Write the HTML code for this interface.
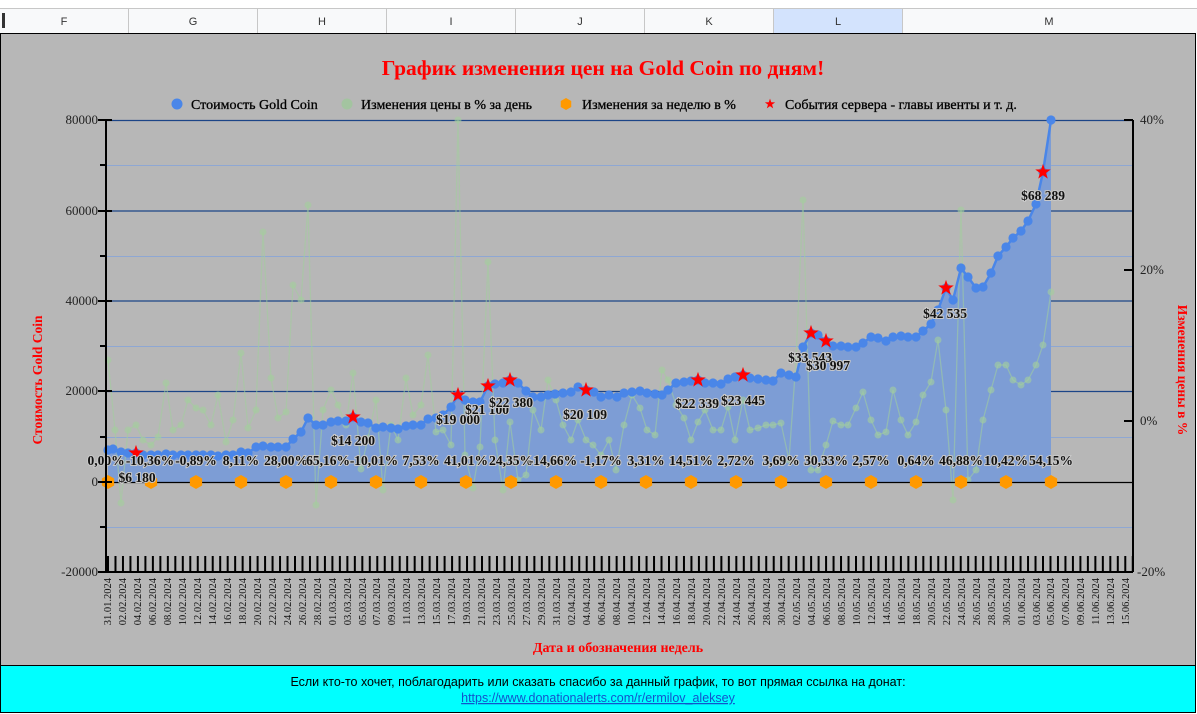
<!DOCTYPE html>
<html><head><meta charset="utf-8"><style>
body{margin:0;width:1197px;height:714px;overflow:hidden;background:#fff;font-family:"Liberation Sans",sans-serif}
svg{display:block}
</style></head><body>
<svg width="1197" height="714" viewBox="0 0 1197 714" xmlns="http://www.w3.org/2000/svg">
<defs>
<marker id="dot" markerWidth="10" markerHeight="10" refX="5" refY="5" markerUnits="userSpaceOnUse"><circle cx="5" cy="5" r="4.6" fill="#4a86e8"/></marker>
<marker id="gdot" markerWidth="8" markerHeight="8" refX="4" refY="4" markerUnits="userSpaceOnUse"><circle cx="4" cy="4" r="3.5" fill="#a3cf9c" fill-opacity="0.6"/></marker>
<symbol id="star" viewBox="-10 -10 20 20" overflow="visible"><polygon points="0,-9 2.1,-2.9 8.6,-2.8 3.4,1.1 5.3,7.3 0,3.6 -5.3,7.3 -3.4,1.1 -8.6,-2.8 -2.1,-2.9" fill="#ff0000"/></symbol>
<symbol id="hex" viewBox="-8 -8 16 16" overflow="visible"><polygon points="0,-8 7,-4 7,4 0,8 -7,4 -7,-4" fill="#ff9900"/></symbol>
<pattern id="ticks" x="107" y="0" width="7.48" height="20" patternUnits="userSpaceOnUse"><rect x="0" y="0" width="2" height="20" fill="#000"/></pattern>
</defs>
<rect x="0" y="0" width="1197" height="8" fill="#fff"/>
<rect x="0" y="8" width="1197" height="25" fill="#f8f9fa"/>
<rect x="773" y="8" width="129" height="25" fill="#d3e3fd"/>
<line x1="0" y1="8.5" x2="1197" y2="8.5" stroke="#c7c7c7"/>
<g stroke="#c7c7c7"><line x1="128.5" y1="8" x2="128.5" y2="33"/><line x1="257.5" y1="8" x2="257.5" y2="33"/><line x1="386.5" y1="8" x2="386.5" y2="33"/><line x1="515.5" y1="8" x2="515.5" y2="33"/><line x1="644.5" y1="8" x2="644.5" y2="33"/><line x1="773.5" y1="8" x2="773.5" y2="33"/><line x1="902.5" y1="8" x2="902.5" y2="33"/></g>
<rect x="2" y="13" width="3" height="15" fill="#333"/>
<g font-family="Liberation Sans, sans-serif" font-size="11" fill="#333" text-anchor="middle"><text x="64" y="25">F</text><text x="193" y="25">G</text><text x="322" y="25">H</text><text x="451" y="25">I</text><text x="580" y="25">J</text><text x="709" y="25">K</text><text x="838" y="25">L</text><text x="1049" y="25">M</text></g>
<rect x="0.5" y="33.5" width="1195" height="632" fill="#b7b7b7" stroke="#000"/>
<text x="603" y="75" text-anchor="middle" font-family="Liberation Serif, serif" font-weight="bold" font-size="21.5" fill="#ff0000">График изменения цен на Gold Coin по дням!</text>
<g font-family="Liberation Serif, serif" font-size="14" fill="#000" stroke="#000" stroke-width="0.3">
<circle cx="177" cy="104" r="5.5" fill="#4a86e8" stroke="none"/><text x="191" y="109">Стоимость Gold Coin</text>
<circle cx="347" cy="104" r="5.5" fill="#a3c4a0" stroke="none"/><text x="361" y="109">Изменения цены в % за день</text>
<use href="#hex" x="560" y="98" width="12" height="12" stroke="none"/><text x="582" y="109">Изменения за неделю в %</text>
<use href="#star" x="764" y="98" width="12" height="12" stroke="none"/><text x="785" y="109">События сервера - главы ивенты и т. д.</text>
</g>
<g stroke="#8ea7d3" stroke-width="1"><line x1="106" y1="165.5" x2="1133" y2="165.5"/><line x1="106" y1="256.5" x2="1133" y2="256.5"/><line x1="106" y1="346.5" x2="1133" y2="346.5"/><line x1="106" y1="437.5" x2="1133" y2="437.5"/><line x1="106" y1="527.5" x2="1133" y2="527.5"/></g>
<g stroke="#1c4587" stroke-width="1.2"><line x1="106" y1="120.5" x2="1133" y2="120.5"/><line x1="106" y1="211" x2="1133" y2="211"/><line x1="106" y1="301" x2="1133" y2="301"/><line x1="106" y1="391.5" x2="1133" y2="391.5"/></g>
<path fill="#7d9dd5" d="M108,482 L108,450 113,449 121,452 128,453 136,453 143,455 151,455 158,455 166,454 173,455 181,455 188,455 196,455 203,455 211,455 218,456 226,455 233,455 241,452 248,453 256,447 263,446 271,447 278,447 286,447 293,439 301,432 308,418 316,425 323,425 331,422 338,421 346,421 353,417 361,422 368,423 376,428 383,427 391,428 398,429 406,426 413,425 421,425 428,419 436,418 443,415 451,407 458,395 465,400 473,402 480,402 488,386 495,384 503,383 510,380 518,383 526,391 533,397 541,397 548,395 555,394 563,393 571,392 578,387 586,390 594,392 601,397 609,395 617,397 624,393 632,392 640,391 647,393 655,394 662,395 668,390 676,383 684,382 691,381 698,380 705,383 713,383 721,384 728,379 735,377 743,375 750,378 758,379 766,380 773,381 781,373 789,375 796,377 803,347 811,333 818,335 826,341 833,346 841,346 848,347 856,347 863,343 871,337 878,338 886,341 893,337 901,336 908,337 916,337 923,331 931,324 938,310 946,288 953,300 961,268 968,277 976,288 983,287 991,273 998,256 1006,247 1013,238 1021,231 1028,221 1036,204 1043,172 1051,120 L1051,482 Z"/>
<polyline fill="none" stroke="#a3cf9c" stroke-opacity="0.55" stroke-width="1.3" marker-start="url(#gdot)" marker-mid="url(#gdot)" marker-end="url(#gdot)" points="108,360 115,430 121,503 128,430 136,425 143,440 151,445 158,437 166,383 173,430 181,425 188,400 196,408 203,410 211,425 218,395 226,442 233,420 241,353 248,428 256,410 263,232 271,378 278,418 286,412 293,285 301,300 308,205 316,505 323,410 331,390 338,405 346,425 353,373 361,469 368,438 376,400 383,490 391,425 398,440 406,378 413,415 421,405 428,355 436,432 443,430 451,445 458,120 465,455 473,488 480,447 488,262 495,440 503,490 510,422 518,480 526,475 533,410 541,430 548,380 556,400 563,425 571,440 578,420 586,440 593,445 601,455 609,440 616,470 624,425 632,395 640,408 647,430 655,435 662,370 668,380 676,405 684,418 691,440 698,422 705,410 713,430 721,430 728,407 735,440 743,400 750,430 758,428 766,425 773,425 781,423 789,460 796,360 803,200 811,470 818,470 826,445 833,421 841,425 848,425 856,408 863,392 871,420 878,435 886,432 893,390 901,420 908,435 916,422 923,395 931,382 938,340 946,410 953,500 961,210 968,480 976,470 983,420 991,390 998,365 1006,365 1013,380 1021,385 1028,380 1036,365 1043,345 1051,292"/>
<line x1="106" y1="482.5" x2="1133" y2="482.5" stroke="#000" stroke-width="1.2"/>
<polyline fill="none" stroke="#4a86e8" stroke-width="2.5" marker-start="url(#dot)" marker-mid="url(#dot)" marker-end="url(#dot)" points="108,450 113,449 121,452 128,453 136,453 143,455 151,455 158,455 166,454 173,455 181,455 188,455 196,455 203,455 211,455 218,456 226,455 233,455 241,452 248,453 256,447 263,446 271,447 278,447 286,447 293,439 301,432 308,418 316,425 323,425 331,422 338,421 346,421 353,417 361,422 368,423 376,428 383,427 391,428 398,429 406,426 413,425 421,425 428,419 436,418 443,415 451,407 458,395 465,400 473,402 480,402 488,386 495,384 503,383 510,380 518,383 526,391 533,397 541,397 548,395 555,394 563,393 571,392 578,387 586,390 594,392 601,397 609,395 617,397 624,393 632,392 640,391 647,393 655,394 662,395 668,390 676,383 684,382 691,381 698,380 705,383 713,383 721,384 728,379 735,377 743,375 750,378 758,379 766,380 773,381 781,373 789,375 796,377 803,347 811,333 818,335 826,341 833,346 841,346 848,347 856,347 863,343 871,337 878,338 886,341 893,337 901,336 908,337 916,337 923,331 931,324 938,310 946,288 953,300 961,268 968,277 976,288 983,287 991,273 998,256 1006,247 1013,238 1021,231 1028,221 1036,204 1043,172 1051,120"/>
<g><use href="#hex" x="101" y="475" width="14" height="14"/><use href="#hex" x="144" y="475" width="14" height="14"/><use href="#hex" x="189" y="475" width="14" height="14"/><use href="#hex" x="234" y="475" width="14" height="14"/><use href="#hex" x="279" y="475" width="14" height="14"/><use href="#hex" x="324" y="475" width="14" height="14"/><use href="#hex" x="369" y="475" width="14" height="14"/><use href="#hex" x="414" y="475" width="14" height="14"/><use href="#hex" x="459" y="475" width="14" height="14"/><use href="#hex" x="504" y="475" width="14" height="14"/><use href="#hex" x="549" y="475" width="14" height="14"/><use href="#hex" x="594" y="475" width="14" height="14"/><use href="#hex" x="639" y="475" width="14" height="14"/><use href="#hex" x="684" y="475" width="14" height="14"/><use href="#hex" x="729" y="475" width="14" height="14"/><use href="#hex" x="774" y="475" width="14" height="14"/><use href="#hex" x="819" y="475" width="14" height="14"/><use href="#hex" x="864" y="475" width="14" height="14"/><use href="#hex" x="909" y="475" width="14" height="14"/><use href="#hex" x="954" y="475" width="14" height="14"/><use href="#hex" x="999" y="475" width="14" height="14"/><use href="#hex" x="1044" y="475" width="14" height="14"/></g>
<g><use href="#star" x="127" y="444" width="18" height="18"/><use href="#star" x="344" y="408" width="18" height="18"/><use href="#star" x="449" y="386" width="18" height="18"/><use href="#star" x="479" y="377" width="18" height="18"/><use href="#star" x="501" y="371" width="18" height="18"/><use href="#star" x="577" y="381" width="18" height="18"/><use href="#star" x="689" y="371" width="18" height="18"/><use href="#star" x="734" y="366" width="18" height="18"/><use href="#star" x="802" y="324" width="18" height="18"/><use href="#star" x="817" y="332" width="18" height="18"/><use href="#star" x="937" y="279" width="18" height="18"/><use href="#star" x="1034" y="163" width="18" height="18"/></g>
<g font-family="Liberation Serif, serif" font-weight="bold" font-size="13.5" fill="#111" text-anchor="middle" stroke="#c8c8c8" stroke-width="2" paint-order="stroke">
<text x="106" y="465">0,00%</text><text x="150" y="465">-10,36%</text><text x="196" y="465">-0,89%</text><text x="241" y="465">8,11%</text><text x="286" y="465">28,00%</text><text x="328" y="465">65,16%</text><text x="374" y="465">-10,01%</text><text x="421" y="465">7,53%</text><text x="466" y="465">41,01%</text><text x="511" y="465">24,35%</text><text x="553" y="465">-14,66%</text><text x="601" y="465">-1,17%</text><text x="646" y="465">3,31%</text><text x="691" y="465">14,51%</text><text x="736" y="465">2,72%</text><text x="781" y="465">3,69%</text><text x="826" y="465">30,33%</text><text x="871" y="465">2,57%</text><text x="916" y="465">0,64%</text><text x="961" y="465">46,88%</text><text x="1006" y="465">10,42%</text><text x="1051" y="465">54,15%</text>
</g>
<g font-family="Liberation Serif, serif" font-weight="bold" font-size="13.5" fill="#111" text-anchor="middle" stroke="#c8c8c8" stroke-width="2" paint-order="stroke">
<text x="137" y="482">$6 180</text><text x="353" y="445">$14 200</text><text x="458" y="424">$19 000</text><text x="487" y="414">$21 100</text><text x="511" y="407">$22 380</text><text x="585" y="419">$20 109</text><text x="697" y="408">$22 339</text><text x="743" y="405">$23 445</text><text x="810" y="362">$33 543</text><text x="828" y="370">$30 997</text><text x="945" y="318">$42 535</text><text x="1043" y="200">$68 289</text>
</g>
<line x1="106" y1="120" x2="106" y2="572" stroke="#000" stroke-width="2"/>
<line x1="1133" y1="120" x2="1133" y2="572" stroke="#000" stroke-width="2"/>
<line x1="106" y1="572" x2="1133" y2="572" stroke="#000" stroke-width="2"/>
<g stroke="#000" stroke-width="2"><line x1="98" y1="120" x2="112" y2="120"/><line x1="98" y1="211" x2="112" y2="211"/><line x1="98" y1="301" x2="112" y2="301"/><line x1="98" y1="391" x2="112" y2="391"/><line x1="98" y1="482" x2="112" y2="482"/><line x1="98" y1="572" x2="112" y2="572"/><line x1="100" y1="165" x2="106" y2="165"/><line x1="100" y1="256" x2="106" y2="256"/><line x1="100" y1="346" x2="106" y2="346"/><line x1="100" y1="437" x2="106" y2="437"/><line x1="100" y1="527" x2="106" y2="527"/>
<line x1="1124" y1="120" x2="1133" y2="120"/><line x1="1124" y1="270" x2="1133" y2="270"/><line x1="1124" y1="421" x2="1133" y2="421"/><line x1="1124" y1="572" x2="1133" y2="572"/></g>
<rect x="107" y="556" width="1026" height="16" fill="url(#ticks)"/>
<g font-family="Liberation Serif, serif" font-size="13" fill="#222" text-anchor="end"><text x="98" y="124">80000</text><text x="98" y="215">60000</text><text x="98" y="305">40000</text><text x="98" y="395">20000</text><text x="98" y="486">0</text><text x="98" y="576">-20000</text></g>
<g font-family="Liberation Serif, serif" font-size="13" fill="#222"><text x="1140" y="124">40%</text><text x="1140" y="274">20%</text><text x="1140" y="425">0%</text><text x="1137" y="576">-20%</text></g>
<text transform="translate(42,380) rotate(-90)" text-anchor="middle" font-family="Liberation Serif, serif" font-weight="bold" font-size="13.5" fill="#ff0000">Стоимость Gold Coin</text>
<text transform="translate(1178,370) rotate(90)" text-anchor="middle" font-family="Liberation Serif, serif" font-weight="bold" font-size="13.5" fill="#ff0000">Изменения цены в %</text>
<text x="618" y="652" text-anchor="middle" font-family="Liberation Serif, serif" font-weight="bold" font-size="14" fill="#ff0000">Дата и обозначения недель</text>
<g font-family="Liberation Serif, serif" font-size="10.5" fill="#111" text-anchor="end">
<text transform="translate(111,578) rotate(-90)">31.01.2024</text>
<text transform="translate(126,578) rotate(-90)">02.02.2024</text>
<text transform="translate(141,578) rotate(-90)">04.02.2024</text>
<text transform="translate(156,578) rotate(-90)">06.02.2024</text>
<text transform="translate(171,578) rotate(-90)">08.02.2024</text>
<text transform="translate(186,578) rotate(-90)">10.02.2024</text>
<text transform="translate(201,578) rotate(-90)">12.02.2024</text>
<text transform="translate(216,578) rotate(-90)">14.02.2024</text>
<text transform="translate(231,578) rotate(-90)">16.02.2024</text>
<text transform="translate(246,578) rotate(-90)">18.02.2024</text>
<text transform="translate(261,578) rotate(-90)">20.02.2024</text>
<text transform="translate(276,578) rotate(-90)">22.02.2024</text>
<text transform="translate(291,578) rotate(-90)">24.02.2024</text>
<text transform="translate(306,578) rotate(-90)">26.02.2024</text>
<text transform="translate(321,578) rotate(-90)">28.02.2024</text>
<text transform="translate(336,578) rotate(-90)">01.03.2024</text>
<text transform="translate(351,578) rotate(-90)">03.03.2024</text>
<text transform="translate(366,578) rotate(-90)">05.03.2024</text>
<text transform="translate(380,578) rotate(-90)">07.03.2024</text>
<text transform="translate(395,578) rotate(-90)">09.03.2024</text>
<text transform="translate(410,578) rotate(-90)">11.03.2024</text>
<text transform="translate(425,578) rotate(-90)">13.03.2024</text>
<text transform="translate(440,578) rotate(-90)">15.03.2024</text>
<text transform="translate(455,578) rotate(-90)">17.03.2024</text>
<text transform="translate(470,578) rotate(-90)">19.03.2024</text>
<text transform="translate(485,578) rotate(-90)">21.03.2024</text>
<text transform="translate(500,578) rotate(-90)">23.03.2024</text>
<text transform="translate(515,578) rotate(-90)">25.03.2024</text>
<text transform="translate(530,578) rotate(-90)">27.03.2024</text>
<text transform="translate(545,578) rotate(-90)">29.03.2024</text>
<text transform="translate(560,578) rotate(-90)">31.03.2024</text>
<text transform="translate(575,578) rotate(-90)">02.04.2024</text>
<text transform="translate(590,578) rotate(-90)">04.04.2024</text>
<text transform="translate(605,578) rotate(-90)">06.04.2024</text>
<text transform="translate(620,578) rotate(-90)">08.04.2024</text>
<text transform="translate(635,578) rotate(-90)">10.04.2024</text>
<text transform="translate(650,578) rotate(-90)">12.04.2024</text>
<text transform="translate(665,578) rotate(-90)">14.04.2024</text>
<text transform="translate(680,578) rotate(-90)">16.04.2024</text>
<text transform="translate(695,578) rotate(-90)">18.04.2024</text>
<text transform="translate(710,578) rotate(-90)">20.04.2024</text>
<text transform="translate(725,578) rotate(-90)">22.04.2024</text>
<text transform="translate(740,578) rotate(-90)">24.04.2024</text>
<text transform="translate(755,578) rotate(-90)">26.04.2024</text>
<text transform="translate(770,578) rotate(-90)">28.04.2024</text>
<text transform="translate(785,578) rotate(-90)">30.04.2024</text>
<text transform="translate(800,578) rotate(-90)">02.05.2024</text>
<text transform="translate(815,578) rotate(-90)">04.05.2024</text>
<text transform="translate(830,578) rotate(-90)">06.05.2024</text>
<text transform="translate(845,578) rotate(-90)">08.05.2024</text>
<text transform="translate(860,578) rotate(-90)">10.05.2024</text>
<text transform="translate(875,578) rotate(-90)">12.05.2024</text>
<text transform="translate(890,578) rotate(-90)">14.05.2024</text>
<text transform="translate(905,578) rotate(-90)">16.05.2024</text>
<text transform="translate(920,578) rotate(-90)">18.05.2024</text>
<text transform="translate(935,578) rotate(-90)">20.05.2024</text>
<text transform="translate(950,578) rotate(-90)">22.05.2024</text>
<text transform="translate(965,578) rotate(-90)">24.05.2024</text>
<text transform="translate(980,578) rotate(-90)">26.05.2024</text>
<text transform="translate(995,578) rotate(-90)">28.05.2024</text>
<text transform="translate(1010,578) rotate(-90)">30.05.2024</text>
<text transform="translate(1025,578) rotate(-90)">01.06.2024</text>
<text transform="translate(1040,578) rotate(-90)">03.06.2024</text>
<text transform="translate(1054,578) rotate(-90)">05.06.2024</text>
<text transform="translate(1069,578) rotate(-90)">07.06.2024</text>
<text transform="translate(1084,578) rotate(-90)">09.06.2024</text>
<text transform="translate(1099,578) rotate(-90)">11.06.2024</text>
<text transform="translate(1114,578) rotate(-90)">13.06.2024</text>
<text transform="translate(1129,578) rotate(-90)">15.06.2024</text>
</g>
<rect x="0.5" y="665.5" width="1195" height="47" fill="#00ffff" stroke="#000"/>
<text x="598" y="686" text-anchor="middle" font-family="Liberation Sans, sans-serif" font-size="12.5" fill="#000">Если кто-то хочет, поблагодарить или сказать спасибо за данный график, то вот прямая ссылка на донат:</text>
<text x="598" y="702" text-anchor="middle" font-family="Liberation Sans, sans-serif" font-size="12.5" fill="#1155cc" text-decoration="underline">https://www.donationalerts.com/r/ermilov_aleksey</text>
</svg>
</body></html>
